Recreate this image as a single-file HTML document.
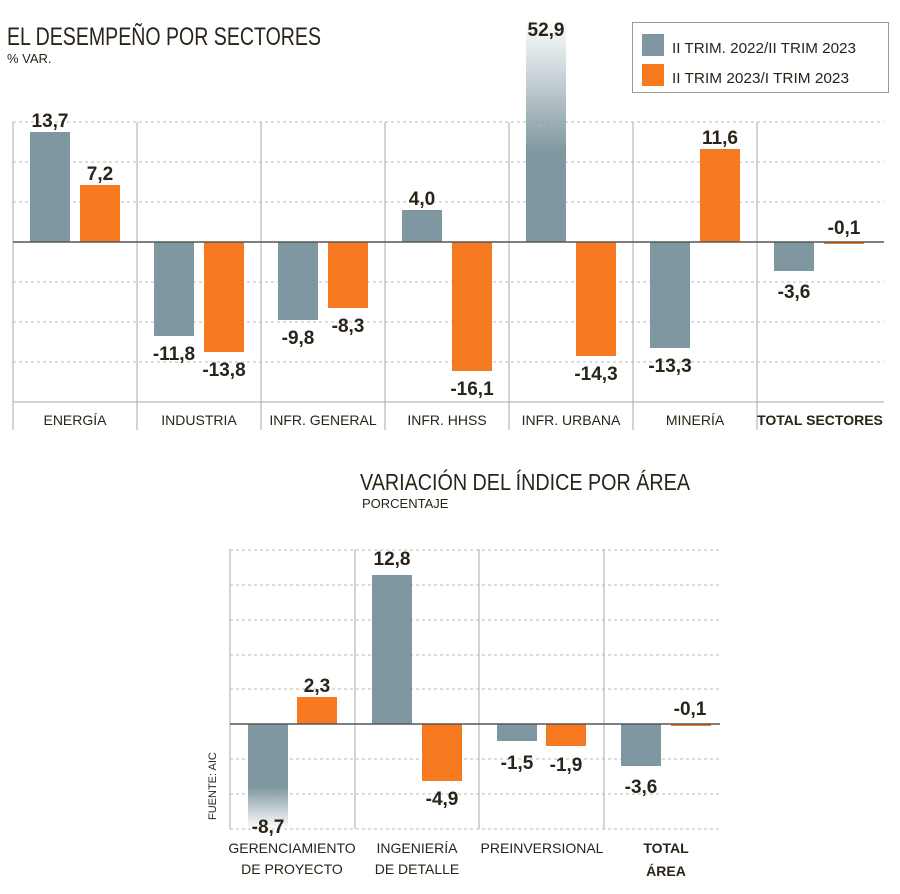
<!DOCTYPE html>
<html><head><meta charset="utf-8"><style>
body{margin:0;background:#fff;}
svg text{font-family:"Liberation Sans",sans-serif;}
.v{font-family:"Liberation Sans Narrow","Liberation Sans",sans-serif;font-weight:bold;font-size:19px;fill:#2a2418;text-anchor:middle;}
.l{font-size:14px;fill:#2a2418;text-anchor:middle;}
</style></head><body>
<svg width="900" height="889" viewBox="0 0 900 889" xmlns="http://www.w3.org/2000/svg">
<defs>
<linearGradient id="fu" x1="0" y1="0" x2="0" y2="1"><stop offset="0" stop-color="#7f97a0" stop-opacity="0"/><stop offset="0.6" stop-color="#7f97a0"/></linearGradient>
<linearGradient id="fd" x1="0" y1="0" x2="0" y2="1"><stop offset="0.6" stop-color="#7f97a0"/><stop offset="1" stop-color="#7f97a0" stop-opacity="0"/></linearGradient>
</defs>
<text x="7" y="45" font-size="25" fill="#2a2418" textLength="314" lengthAdjust="spacingAndGlyphs">EL DESEMPEÑO POR SECTORES</text>
<text x="7" y="63" font-size="13" fill="#2a2418">% VAR.</text>
<rect x="632.5" y="22.5" width="256" height="70" fill="#fff" stroke="#999"/>
<rect x="642" y="34" width="22" height="22" fill="#7f97a0"/>
<rect x="642" y="64" width="22" height="22" fill="#f77a20"/>
<text x="672" y="53" font-size="15" fill="#2a2418" textLength="184" lengthAdjust="spacingAndGlyphs">II TRIM. 2022/II TRIM 2023</text>
<text x="672" y="83" font-size="15" fill="#2a2418" textLength="177" lengthAdjust="spacingAndGlyphs">II TRIM 2023/I TRIM 2023</text>
<g stroke="#bbb" stroke-dasharray="3,3">
<line x1="13" x2="884" y1="122" y2="122"/><line x1="13" x2="884" y1="162" y2="162"/><line x1="13" x2="884" y1="202" y2="202"/>
<line x1="13" x2="884" y1="282" y2="282"/><line x1="13" x2="884" y1="322" y2="322"/><line x1="13" x2="884" y1="362" y2="362"/>
</g>
<g stroke="#aaa"><line x1="13" x2="13" y1="122" y2="430"/><line x1="137" x2="137" y1="122" y2="430"/><line x1="261" x2="261" y1="122" y2="430"/><line x1="385" x2="385" y1="122" y2="430"/><line x1="509" x2="509" y1="122" y2="430"/><line x1="633" x2="633" y1="122" y2="430"/><line x1="757" x2="757" y1="122" y2="430"/>
<line x1="13" x2="884" y1="402" y2="402"/></g>
<g fill="#7f97a0">
<rect x="30" y="132" width="40" height="110"/><rect x="154" y="242" width="40" height="94"/><rect x="278" y="242" width="40" height="78"/><rect x="402" y="210" width="40" height="32"/>
<rect x="526" y="20" width="40" height="222" fill="url(#fu)"/><rect x="650" y="242" width="40" height="106"/><rect x="774" y="242" width="40" height="29"/></g>
<g fill="#f77a20">
<rect x="80" y="185" width="40" height="57"/><rect x="204" y="242" width="40" height="110"/><rect x="328" y="242" width="40" height="66"/><rect x="452" y="242" width="40" height="129"/>
<rect x="576" y="242" width="40" height="114"/><rect x="700" y="149" width="40" height="93"/><rect x="824" y="242" width="40" height="2"/></g>
<line x1="13" x2="884" y1="242" y2="242" stroke="#555" stroke-width="1.5"/>
<g class="v">
<text x="50" y="127">13,7</text><text x="100" y="180">7,2</text>
<text x="174" y="360">-11,8</text><text x="224" y="376">-13,8</text>
<text x="298" y="344">-9,8</text><text x="348" y="332">-8,3</text>
<text x="422" y="205">4,0</text><text x="472" y="395">-16,1</text>
<text x="546" y="36">52,9</text><text x="596" y="380">-14,3</text>
<text x="670" y="372">-13,3</text><text x="720" y="144">11,6</text>
<text x="794" y="298">-3,6</text><text x="844" y="234">-0,1</text></g>
<g class="l"><text x="75" y="425">ENERGÍA</text><text x="199" y="425">INDUSTRIA</text><text x="323" y="425">INFR. GENERAL</text><text x="447" y="425">INFR. HHSS</text><text x="571" y="425">INFR. URBANA</text><text x="695" y="425">MINERÍA</text><text x="820" y="425" font-weight="bold">TOTAL SECTORES</text></g>

<text x="360" y="490" font-size="23" fill="#2a2418" textLength="330" lengthAdjust="spacingAndGlyphs">VARIACIÓN DEL ÍNDICE POR ÁREA</text>
<text x="362" y="508" font-size="13" fill="#2a2418">PORCENTAJE</text>
<g stroke="#bbb" stroke-dasharray="3,3">
<line x1="230" x2="720" y1="550" y2="550"/><line x1="230" x2="720" y1="585" y2="585"/><line x1="230" x2="720" y1="620" y2="620"/><line x1="230" x2="720" y1="655" y2="655"/><line x1="230" x2="720" y1="689" y2="689"/><line x1="230" x2="720" y1="759" y2="759"/><line x1="230" x2="720" y1="794" y2="794"/><line x1="230" x2="720" y1="829" y2="829"/></g>
<g stroke="#aaa"><line x1="230" x2="230" y1="549" y2="829"/><line x1="355" x2="355" y1="549" y2="829"/><line x1="479" x2="479" y1="549" y2="829"/><line x1="604" x2="604" y1="549" y2="829"/></g>
<rect x="248" y="724" width="40" height="105" fill="url(#fd)"/>
<g fill="#7f97a0"><rect x="372" y="575" width="40" height="149"/><rect x="497" y="724" width="40" height="17"/><rect x="621" y="724" width="40" height="42"/></g>
<g fill="#f77a20"><rect x="297" y="697" width="40" height="27"/><rect x="422" y="724" width="40" height="57"/><rect x="546" y="724" width="40" height="22"/><rect x="671" y="724" width="40" height="2"/></g>
<line x1="230" x2="720" y1="724" y2="724" stroke="#555" stroke-width="1.5"/>
<g class="v"><text x="268" y="833">-8,7</text><text x="317" y="692">2,3</text><text x="392" y="565">12,8</text><text x="442" y="805">-4,9</text><text x="517" y="769">-1,5</text><text x="566" y="771">-1,9</text><text x="641" y="793">-3,6</text><text x="690" y="715">-0,1</text></g>
<text transform="translate(216,820) rotate(-90)" font-size="11" fill="#2a2418">FUENTE: AIC</text>
<g class="l"><text x="292" y="853">GERENCIAMIENTO</text><text x="292" y="874">DE PROYECTO</text><text x="417" y="853">INGENIERÍA</text><text x="417" y="874">DE DETALLE</text><text x="542" y="853">PREINVERSIONAL</text><text x="666" y="853" font-weight="bold">TOTAL</text><text x="666" y="876" font-weight="bold">ÁREA</text></g>
</svg>
</body></html>
